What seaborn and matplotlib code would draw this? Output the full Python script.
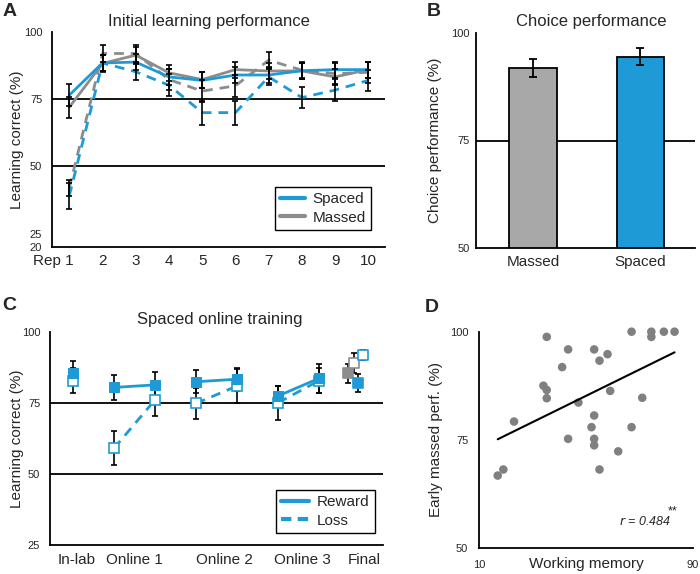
import numpy as np
import pandas as pd
import matplotlib
matplotlib.use("Agg")
import matplotlib.pyplot as plt
import matplotlib.transforms as mtransforms
from matplotlib.lines import Line2D
import seaborn as sns

sns.set_theme(style="white")
plt.rcParams['font.family'] = ['Liberation Sans', 'DejaVu Sans']

BLUE = '#1e9bd7'
GRAY = '#8c8c8c'
BARGRAY = '#a8a8a8'
DOTGRAY = '#808080'

# ---------------- Panel A data ----------------
reps = [1, 2, 3, 4, 5, 6, 7, 8, 9, 10]
spaced_reward = [76.5, 88.5, 88.8, 83.3, 82.0, 84.0, 84.0, 85.6, 86.0, 86.0]
spaced_reward_err = [4, 3, 3, 3, 3, 3, 3, 3, 3, 3]
massed_reward = [72.0, 88.3, 91.4, 84.8, 82.3, 86.0, 85.5, 85.5, 83.3, 86.0]
massed_reward_err = [4, 3, 3, 3, 3, 3, 3, 3, 3, 3]
spaced_loss = [39.0, 88.5, 85.2, 80.2, 70.0, 70.0, 83.3, 75.6, 78.4, 82.0]
spaced_loss_err = [5, 3, 3, 4, 4.5, 4.5, 3, 4, 4, 4]
massed_loss = [42.0, 92.0, 92.0, 82.3, 78.0, 80.0, 89.5, 85.8, 84.5, 85.0]
massed_loss_err = [3, 3, 3, 4, 4, 4, 3, 3, 4, 4]

# ---------------- Panel B data ----------------
b_groups = ['Massed', 'Spaced']
b_values = [91.9, 94.5]
b_err = [2.1, 1.9]

# ---------------- Panel C data ----------------
c_tick_pos = [0.1, 1.5, 3.7, 5.6, 7.1]
c_tick_labels = ['In-lab', 'Online 1', 'Online 2', 'Online 3', 'Final']
c_x = [0, 1, 2, 3, 4, 5, 6]
c_block = ['lab', 'o1', 'o1', 'o2', 'o2', 'o3', 'o3']
c_reward = [85.6, 80.4, 81.3, 82.4, 83.3, 77.4, 83.6]
c_reward_err = [4, 4.3, 4.5, 4, 4, 3.5, 5]
c_loss = [82.8, 59.0, 76.0, 74.8, 80.9, 75.0, 82.8]
c_loss_err = [4.5, 6, 5.5, 5.5, 6, 6, 4.5]
final_x = [6.71, 6.85, 6.96, 7.07]
final_vals = [85.4, 89.1, 81.9, 91.8]
final_err = [3.4, 3.5, 3.2, 1.6]

# ---------------- Panel D data ----------------
wm = [16.9, 19.0, 23.0, 35.25, 34.0, 35.25, 35.25, 41.0, 43.25, 43.25, 47.1,
      52.0, 53.0, 53.0, 53.0, 53.0, 55.0, 55.0, 58.0, 59.0, 62.0, 67.0, 67.0,
      71.0, 74.4, 74.4, 79.1, 83.1]
perf = [66.7, 68.1, 79.2, 98.8, 87.5, 86.5, 84.6, 91.8, 95.9, 75.2, 83.6,
        77.9, 80.6, 95.9, 75.2, 73.7, 93.3, 68.1, 94.8, 86.3, 72.3, 100.0, 77.9,
        84.7, 100.0, 98.8, 100.0, 100.0]

W, H = 700, 574
fig = plt.figure(figsize=(7.0, 5.74), dpi=100)


def ax_px(l, r, t, b):
    return fig.add_axes([l / W, 1 - b / H, (r - l) / W, (b - t) / H])


def style_axes(ax):
    for s in ['top', 'right']:
        ax.spines[s].set_visible(False)
    for s in ['left', 'bottom']:
        ax.spines[s].set_color('black')
        ax.spines[s].set_linewidth(1.3)
    ax.tick_params(length=0)
    ax.grid(False)


# ================= A =================
axA = ax_px(52, 385, 32, 247)
dfA = pd.DataFrame({
    'rep': reps * 4,
    'val': spaced_reward + massed_reward + spaced_loss + massed_loss,
    'group': ['Spaced'] * 10 + ['Massed'] * 10 + ['Spaced'] * 10 + ['Massed'] * 10,
    'cond': ['Reward'] * 20 + ['Loss'] * 20,
})
axA.axhline(75, color='black', lw=1.3, zorder=1)
axA.axhline(50, color='black', lw=1.3, zorder=1)
sns.lineplot(data=dfA, x='rep', y='val', hue='group', style='cond',
             palette={'Spaced': BLUE, 'Massed': GRAY},
             dashes={'Reward': '', 'Loss': (3.5, 2.5)},
             hue_order=['Massed', 'Spaced'],
             lw=2.0, legend=False, ax=axA, zorder=3)
for vals, errs in [(spaced_reward, spaced_reward_err), (massed_reward, massed_reward_err),
                   (spaced_loss, spaced_loss_err), (massed_loss, massed_loss_err)]:
    axA.errorbar(reps, vals, yerr=errs, fmt='none', ecolor='black', elinewidth=1.2,
                 capsize=2.5, capthick=1.2, zorder=4)
axA.set_xlim(0.48, 10.5)
axA.set_ylim(20, 100)
axA.set_yticks([20, 25, 50, 75, 100])
axA.set_xticks(reps)
axA.set_xticklabels(['Rep 1'] + [str(r) for r in reps[1:]])
style_axes(axA)
axA.tick_params(axis='y', labelsize=8, pad=7)
axA.tick_params(axis='x', labelsize=11, pad=5)
lab0 = axA.get_xticklabels()[0]
lab0.set_ha('right')
lab0.set_transform(lab0.get_transform() + mtransforms.ScaledTranslation(4.5 / 100, 0, fig.dpi_scale_trans))
axA.set_xlabel('')
axA.set_ylabel('Learning correct (%)', fontsize=11)
axA.yaxis.set_label_coords(-0.084, 0.5)
axA.text(0.47, 1.047, 'Initial learning performance', transform=axA.transAxes,
         ha='center', va='center', fontsize=12)
legA = axA.legend(handles=[Line2D([], [], color=BLUE, lw=3),
                           Line2D([], [], color=GRAY, lw=3)],
                  labels=['Spaced', 'Massed'], loc='lower left',
                  bbox_to_anchor=(0.67, 0.079), borderaxespad=0, fontsize=11,
                  fancybox=False, edgecolor='black', framealpha=1,
                  handlelength=1.6, handletextpad=0.5, labelspacing=0.3,
                  borderpad=0.35)
legA.get_frame().set_linewidth(1.0)

# ================= B =================
axB = ax_px(476, 695, 33, 248)
axB.axhline(75, color='black', lw=1.3, zorder=0)
dfB = pd.DataFrame({'group': b_groups, 'val': b_values})
sns.barplot(data=dfB, x='group', y='val', hue='group', palette=[BARGRAY, BLUE],
            saturation=1, width=0.44, edgecolor='black', linewidth=1.3,
            legend=False, ax=axB, zorder=2)
axB.errorbar([0, 1], b_values, yerr=b_err, fmt='none', ecolor='black',
             elinewidth=1.3, capsize=3, capthick=1.3, zorder=3)
axB.set_xlim(-0.53, 1.51)
axB.set_ylim(50, 100)
axB.set_yticks([50, 75, 100])
style_axes(axB)
axB.tick_params(axis='y', labelsize=8, pad=4.5)
axB.tick_params(axis='x', labelsize=11, pad=5)
axB.set_xlabel('')
axB.set_ylabel('Choice performance (%)', fontsize=11)
axB.yaxis.set_label_coords(-0.155, 0.5)
axB.text(0.528, 1.053, 'Choice performance', transform=axB.transAxes,
         ha='center', va='center', fontsize=12)

# ================= C =================
axC = ax_px(50, 383, 331.7, 545)
axC.axhline(75, color='black', lw=1.3, zorder=1)
axC.axhline(50, color='black', lw=1.3, zorder=1)
dfC = pd.DataFrame({'x': c_x * 2, 'val': c_reward + c_loss, 'block': c_block * 2,
                    'cond': ['Reward'] * 7 + ['Loss'] * 7})
axC.errorbar(c_x, c_reward, yerr=c_reward_err, fmt='none', ecolor='black',
             elinewidth=1.2, capsize=2.5, capthick=1.2, zorder=2)
axC.errorbar(c_x, c_loss, yerr=c_loss_err, fmt='none', ecolor='black',
             elinewidth=1.2, capsize=2.5, capthick=1.2, zorder=2)
for blk in ['lab', 'o1', 'o2', 'o3']:
    sub = dfC[(dfC.block == blk) & (dfC.cond == 'Loss')]
    sns.lineplot(data=sub, x='x', y='val', color=BLUE, lw=2, dashes=False,
                 linestyle=(0, (3.5, 2.5)), marker='s', markersize=6.5,
                 markerfacecolor='white', markeredgecolor=BLUE, markeredgewidth=1.2,
                 estimator=None, ax=axC, zorder=3)
    sub = dfC[(dfC.block == blk) & (dfC.cond == 'Reward')]
    sns.lineplot(data=sub, x='x', y='val', color=BLUE, lw=2, marker='s',
                 markersize=7, markerfacecolor=BLUE, markeredgecolor=BLUE,
                 estimator=None, ax=axC, zorder=4)
axC.errorbar(final_x, final_vals, yerr=final_err, fmt='none', ecolor='black',
             elinewidth=1.2, capsize=2.5, capthick=1.2, zorder=2)
dfF = pd.DataFrame({'x': final_x, 'val': final_vals,
                    'kind': ['mf', 'mo', 'sf', 'so']})
fstyles = {'mf': (GRAY, GRAY), 'mo': ('white', GRAY), 'sf': (BLUE, BLUE), 'so': ('white', BLUE)}
for k, (fc, ec) in fstyles.items():
    sub = dfF[dfF.kind == k]
    sns.scatterplot(data=sub, x='x', y='val', marker='s', s=45, color=fc,
                    edgecolor=ec, linewidth=1.2, ax=axC, zorder=4, legend=False)
axC.set_xlim(-0.56, 7.56)
axC.set_ylim(25, 100)
axC.set_yticks([25, 50, 75, 100])
axC.set_xticks(c_tick_pos)
axC.set_xticklabels(c_tick_labels)
style_axes(axC)
axC.tick_params(axis='y', labelsize=8, pad=7)
axC.tick_params(axis='x', labelsize=11, pad=6)
axC.set_xlabel('')
axC.set_ylabel('Learning correct (%)', fontsize=11)
axC.yaxis.set_label_coords(-0.078, 0.5)
axC.text(0.51, 1.055, 'Spaced online training', transform=axC.transAxes,
         ha='center', va='center', fontsize=12)
legC = axC.legend(handles=[Line2D([], [], color=BLUE, lw=3),
                           Line2D([], [], color=BLUE, lw=3, ls=(0, (2.5, 1.5)))],
                  labels=['Reward', 'Loss'], loc='lower left',
                  bbox_to_anchor=(0.679, 0.056), borderaxespad=0, fontsize=11,
                  fancybox=False, edgecolor='black', framealpha=1,
                  handlelength=1.8, handletextpad=0.5, labelspacing=0.3,
                  borderpad=0.35)
legC.get_frame().set_linewidth(1.0)

# ================= D =================
axD = ax_px(479.3, 693, 331.7, 547.7)
dfD = pd.DataFrame({'wm': wm, 'perf': perf})
sns.regplot(data=dfD, x='wm', y='perf', ci=None, truncate=True,
            scatter_kws=dict(color=DOTGRAY, s=38, edgecolor='none', alpha=1,
                             clip_on=False, zorder=2),
            line_kws=dict(color='black', lw=1.5, zorder=3), ax=axD)
axD.set_xlim(10, 90)
axD.set_ylim(50, 100)
axD.set_xticks([10, 90])
axD.set_yticks([50, 75, 100])
style_axes(axD)
axD.tick_params(axis='y', labelsize=8, pad=8)
axD.tick_params(axis='x', labelsize=8, pad=9)
axD.set_xlabel('Working memory', fontsize=11)
axD.xaxis.set_label_coords(0.5, -0.045)
axD.set_ylabel('Early massed perf. (%)', fontsize=11)
axD.yaxis.set_label_coords(-0.17, 0.5)
axD.text(0.775, 0.12, r'$r$ = 0.484', transform=axD.transAxes, ha='center',
         va='center', fontsize=9, style='italic')
axD.text(0.905, 0.17, '**', transform=axD.transAxes, ha='center',
         va='center', fontsize=9)

# panel letters
for lab, x, y in [('A', 3, 3), ('B', 427, 3), ('C', 2, 297), ('D', 425, 299)]:
    fig.text(x / W, 1 - y / H, lab, fontsize=14, weight='bold', va='top', ha='left')

fig.savefig('out.png', dpi=100)
